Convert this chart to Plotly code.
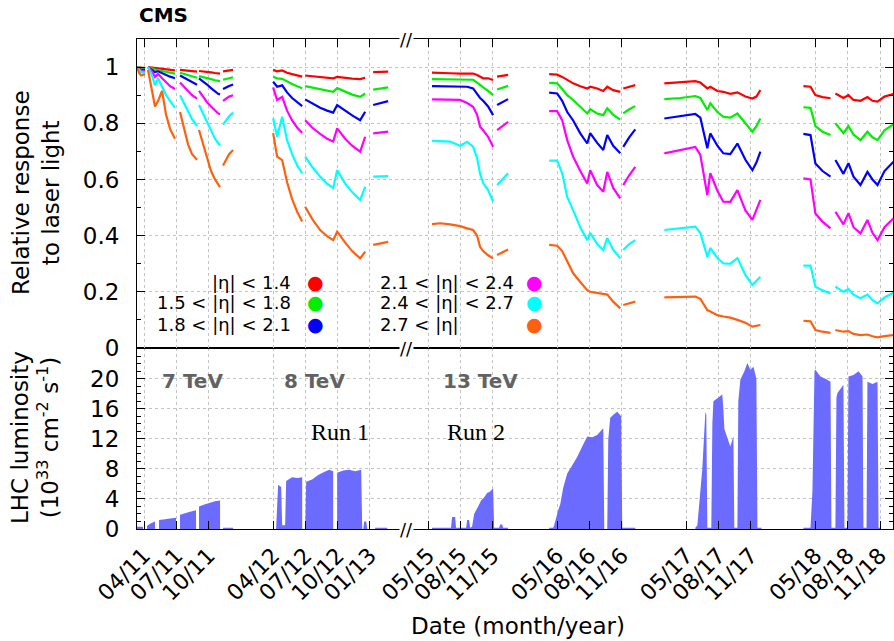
import plotly.graph_objects as go

# ----------------------------- data -----------------------------
# time (decimal years) of each continuous piece of the laser-response curves
T_PIECES = [
    [2011.196, 2011.211, 2011.227, 2011.258],
    [2011.281, 2011.312, 2011.335, 2011.359, 2011.390, 2011.421, 2011.452, 2011.490],
    [2011.529, 2011.560, 2011.591, 2011.622, 2011.661],
    [2011.676, 2011.707, 2011.738, 2011.769, 2011.800, 2011.824, 2011.839],
    [2011.862, 2011.885, 2011.909, 2011.940],
    [2012.250, 2012.281, 2012.320, 2012.358, 2012.397, 2012.436, 2012.475],
    [2012.498, 2012.552, 2012.614, 2012.668, 2012.715, 2012.746, 2012.808, 2012.862, 2012.924, 2012.963],
    [2013.025, 2013.079, 2013.141],
    [2015.364, 2015.426, 2015.504, 2015.581, 2015.636, 2015.682, 2015.713, 2015.736, 2015.760, 2015.798, 2015.837],
    [2015.868, 2015.907, 2015.953],
    [2016.271, 2016.333, 2016.372, 2016.411, 2016.457, 2016.512, 2016.566, 2016.589, 2016.643, 2016.690, 2016.721, 2016.767, 2016.822],
    [2016.845, 2016.891, 2016.938],
    [2017.163, 2017.287, 2017.403, 2017.442, 2017.496, 2017.519, 2017.574, 2017.620, 2017.674, 2017.729, 2017.791, 2017.845, 2017.876, 2017.907],
    [2018.240, 2018.295, 2018.333, 2018.388, 2018.450],
    [2018.488, 2018.550, 2018.589, 2018.628, 2018.682, 2018.736, 2018.775, 2018.814, 2018.868, 2018.938],
]

ETA_RED = [
    [1.0, 1.0, 0.998, 0.997],
    [1.0, 0.998, 0.996, 0.995, 0.994, 0.992, 0.99, 0.988],
    [0.99, 0.989, 0.988, 0.986, 0.984],
    [0.986, 0.985, 0.983, 0.981, 0.979, 0.978, 0.977],
    [0.985, 0.987, 0.988, 0.99],
    [0.99, 0.985, 0.988, 0.98, 0.975, 0.97, 0.966],
    [0.97, 0.968, 0.965, 0.962, 0.96, 0.965, 0.961, 0.959, 0.957, 0.962],
    [0.982, 0.983, 0.984],
    [0.98, 0.978, 0.978, 0.977, 0.977, 0.977, 0.972, 0.965, 0.96, 0.96, 0.954],
    [0.966, 0.969, 0.972],
    [0.975, 0.973, 0.965, 0.955, 0.942, 0.932, 0.924, 0.93, 0.924, 0.915, 0.93, 0.918, 0.912],
    [0.924, 0.93, 0.936],
    [0.942, 0.945, 0.95, 0.945, 0.924, 0.93, 0.915, 0.912, 0.905, 0.91, 0.895, 0.888, 0.895, 0.918],
    [0.932, 0.93, 0.9, 0.893, 0.889],
    [0.906, 0.89, 0.9, 0.883, 0.88, 0.893, 0.88, 0.877, 0.895, 0.904],
]
ETA_GREEN = [
    [1.0, 0.999, 0.997, 0.995],
    [1.0, 0.995, 0.99, 0.988, 0.986, 0.983, 0.98, 0.977],
    [0.98, 0.976, 0.972, 0.968, 0.962],
    [0.968, 0.965, 0.961, 0.957, 0.953, 0.95, 0.95],
    [0.955, 0.958, 0.961, 0.964],
    [0.966, 0.96, 0.958, 0.948, 0.94, 0.932, 0.925],
    [0.932, 0.927, 0.92, 0.915, 0.912, 0.925, 0.912, 0.902, 0.894, 0.906],
    [0.92, 0.924, 0.928],
    [0.957, 0.957, 0.957, 0.956, 0.956, 0.955, 0.945, 0.935, 0.928, 0.915, 0.9],
    [0.92, 0.927, 0.933],
    [0.944, 0.942, 0.922, 0.9, 0.883, 0.86, 0.835, 0.85, 0.835, 0.829, 0.853, 0.83, 0.813],
    [0.835, 0.85, 0.861],
    [0.886, 0.89, 0.897, 0.89, 0.847, 0.871, 0.84, 0.823, 0.82, 0.835, 0.8, 0.77, 0.79, 0.817],
    [0.857, 0.855, 0.79, 0.77, 0.758],
    [0.8, 0.765, 0.79, 0.76, 0.74, 0.77, 0.75, 0.74, 0.775, 0.797],
]
ETA_BLUE = [
    [1.0, 0.995, 0.99, 0.99],
    [1.0, 0.99, 0.982, 0.985, 0.978, 0.972, 0.966, 0.96],
    [0.97, 0.962, 0.953, 0.945, 0.937],
    [0.96, 0.95, 0.938, 0.925, 0.913, 0.905, 0.903],
    [0.922, 0.928, 0.933, 0.938],
    [0.948, 0.93, 0.935, 0.91, 0.89, 0.875, 0.861],
    [0.885, 0.87, 0.855, 0.845, 0.838, 0.865, 0.845, 0.828, 0.811, 0.841],
    [0.865, 0.872, 0.879],
    [0.932, 0.932, 0.932, 0.932, 0.93, 0.924, 0.905, 0.89, 0.88, 0.86, 0.829],
    [0.865, 0.876, 0.886],
    [0.909, 0.906, 0.88, 0.84, 0.81, 0.764, 0.728, 0.765, 0.73, 0.705, 0.758, 0.72, 0.693],
    [0.716, 0.75, 0.778],
    [0.817, 0.825, 0.833, 0.82, 0.711, 0.764, 0.72, 0.693, 0.69, 0.728, 0.67, 0.633, 0.66, 0.699],
    [0.762, 0.758, 0.657, 0.63, 0.61],
    [0.669, 0.62, 0.658, 0.61, 0.58, 0.627, 0.6, 0.58, 0.63, 0.663],
]
ETA_MAGENTA = [
    [1.0, 0.993, 0.988, 0.985],
    [1.0, 0.985, 0.965, 0.975, 0.96, 0.945, 0.932, 0.922],
    [0.945, 0.93, 0.915, 0.9, 0.888],
    [0.915, 0.895, 0.875, 0.86, 0.845, 0.835, 0.832],
    [0.88, 0.888, 0.895, 0.9],
    [0.928, 0.883, 0.894, 0.845, 0.81, 0.785, 0.765],
    [0.811, 0.785, 0.762, 0.745, 0.735, 0.782, 0.745, 0.72, 0.699, 0.752],
    [0.764, 0.767, 0.77],
    [0.885, 0.885, 0.884, 0.883, 0.872, 0.859, 0.83, 0.788, 0.775, 0.752, 0.716],
    [0.776, 0.79, 0.805],
    [0.843, 0.843, 0.811, 0.74, 0.681, 0.63, 0.586, 0.633, 0.58, 0.556, 0.627, 0.57, 0.533],
    [0.58, 0.615, 0.645],
    [0.693, 0.705, 0.716, 0.687, 0.544, 0.622, 0.56, 0.521, 0.52, 0.562, 0.49, 0.456, 0.49, 0.527],
    [0.604, 0.6, 0.479, 0.45, 0.426],
    [0.485, 0.44, 0.48, 0.43, 0.408, 0.456, 0.41, 0.384, 0.43, 0.462],
]
ETA_CYAN = [
    [1.0, 0.99, 0.982, 0.98],
    [1.0, 0.97, 0.935, 0.96, 0.93, 0.9, 0.88, 0.855],
    [0.9, 0.87, 0.84, 0.815, 0.79],
    [0.865, 0.835, 0.8, 0.77, 0.745, 0.73, 0.722],
    [0.795, 0.81, 0.825, 0.838],
    [0.818, 0.752, 0.823, 0.74, 0.69, 0.65, 0.622],
    [0.681, 0.645, 0.61, 0.585, 0.57, 0.633, 0.585, 0.555, 0.527, 0.574],
    [0.61, 0.611, 0.612],
    [0.737, 0.737, 0.735, 0.72, 0.734, 0.717, 0.676, 0.62, 0.587, 0.562, 0.521],
    [0.58, 0.6, 0.622],
    [0.667, 0.667, 0.622, 0.538, 0.49, 0.43, 0.384, 0.41, 0.37, 0.349, 0.391, 0.35, 0.319],
    [0.349, 0.37, 0.384],
    [0.42, 0.426, 0.432, 0.409, 0.325, 0.356, 0.32, 0.301, 0.3, 0.32, 0.26, 0.224, 0.24, 0.254],
    [0.293, 0.293, 0.218, 0.205, 0.195],
    [0.218, 0.2, 0.21, 0.19, 0.177, 0.19, 0.17, 0.159, 0.18, 0.197],
]
ETA_ORANGE = [
    [1.0, 0.98, 0.97, 0.975],
    [0.99, 0.92, 0.86, 0.88, 0.915, 0.83, 0.78, 0.745],
    [0.84, 0.78, 0.725, 0.69, 0.67],
    [0.776, 0.73, 0.68, 0.63, 0.6, 0.58, 0.573],
    [0.65, 0.67, 0.69, 0.705],
    [0.765, 0.681, 0.669, 0.59, 0.53, 0.485, 0.45],
    [0.503, 0.46, 0.42, 0.398, 0.384, 0.414, 0.375, 0.345, 0.319, 0.343],
    [0.367, 0.372, 0.378],
    [0.441, 0.444, 0.44, 0.434, 0.426, 0.42, 0.4, 0.36, 0.345, 0.33, 0.319],
    [0.331, 0.341, 0.351],
    [0.367, 0.364, 0.345, 0.31, 0.266, 0.235, 0.206, 0.2, 0.196, 0.19, 0.19, 0.165, 0.141],
    [0.153, 0.16, 0.165],
    [0.18, 0.182, 0.183, 0.175, 0.135, 0.13, 0.117, 0.112, 0.108, 0.1, 0.09, 0.076, 0.079, 0.082],
    [0.097, 0.095, 0.064, 0.058, 0.054],
    [0.064, 0.058, 0.06, 0.05, 0.046, 0.048, 0.042, 0.038, 0.042, 0.046],
]

SERIES_NAMES = ["|η| < 1.4", "1.5 < |η| < 1.8", "1.8 < |η| < 2.1",
                "2.1 < |η| < 2.4", "2.4 < |η| < 2.7", "2.7 < |η|"]

# LHC instantaneous luminosity envelope (10^33 cm^-2 s^-1)
LUMI_T = [
    2011.196, 2011.196, 2011.242, 2011.242, 2011.273, 2011.273, 2011.297, 2011.335, 2011.335,
    2011.366, 2011.366, 2011.413, 2011.452, 2011.498, 2011.498, 2011.529, 2011.529, 2011.568,
    2011.607, 2011.653, 2011.653, 2011.676, 2011.676, 2011.723, 2011.762, 2011.800, 2011.839,
    2011.839, 2011.862, 2011.862, 2011.940, 2011.940,
    2012.273, 2012.281, 2012.289, 2012.312, 2012.320, 2012.343, 2012.351, 2012.397, 2012.436, 2012.475, 2012.475,
    2012.498, 2012.506, 2012.552, 2012.599, 2012.645, 2012.684, 2012.715, 2012.715,
    2012.746, 2012.746, 2012.793, 2012.839, 2012.886, 2012.932, 2012.940,
    2012.948, 2012.955, 2012.971, 2012.979,
    2013.040, 2013.040, 2013.134, 2013.134,
    2015.364, 2015.364, 2015.511, 2015.519, 2015.543, 2015.550, 2015.628, 2015.636, 2015.651, 2015.659,
    2015.674, 2015.690, 2015.721, 2015.744, 2015.767, 2015.791, 2015.814, 2015.837, 2015.845, 2015.884,
    2015.891, 2015.907, 2015.915, 2015.953, 2015.953,
    2016.271, 2016.271, 2016.302, 2016.310, 2016.341, 2016.357, 2016.380, 2016.411, 2016.450, 2016.488,
    2016.527, 2016.566, 2016.605, 2016.643, 2016.690, 2016.698,
    2016.721, 2016.729, 2016.744, 2016.775, 2016.798, 2016.829, 2016.837, 2016.938, 2016.938,
    2017.403, 2017.403, 2017.419, 2017.457, 2017.481, 2017.488, 2017.496,
    2017.527, 2017.535, 2017.543, 2017.582, 2017.612, 2017.620, 2017.628, 2017.674, 2017.698, 2017.705,
    2017.729, 2017.736, 2017.752, 2017.783, 2017.806, 2017.829, 2017.853, 2017.876, 2017.884, 2017.915, 2017.915,
    2018.240, 2018.240, 2018.295, 2018.310, 2018.326, 2018.333, 2018.372, 2018.411, 2018.450, 2018.457,
    2018.488, 2018.496, 2018.504, 2018.550, 2018.558,
    2018.581, 2018.589, 2018.628, 2018.667, 2018.698, 2018.705,
    2018.729, 2018.736, 2018.775, 2018.814, 2018.822, 2018.837, 2018.837,
]
LUMI_V = [
    0, 0.3, 0.3, 0, 0, 0.4, 0.7, 1.0, 0,
    0, 1.2, 1.3, 1.4, 1.5, 0, 0, 1.9, 2.1,
    2.3, 2.5, 0, 0, 3.0, 3.3, 3.5, 3.7, 3.8,
    0, 0, 0.15, 0.15, 0,
    0, 3.0, 5.9, 5.6, 0.5, 0.5, 6.4, 6.9, 6.8, 6.9, 0,
    0, 6.3, 6.6, 7.2, 7.6, 7.9, 7.7, 0,
    0, 7.5, 7.8, 7.9, 7.7, 7.9, 0,
    0, 1.0, 1.0, 0,
    0, 0.15, 0.15, 0,
    0, 0.15, 0.15, 1.6, 1.6, 0.15, 0.15, 1.2, 1.2, 0.15,
    0.3, 2.0, 3.0, 3.8, 4.2, 4.8, 5.0, 5.4, 0.15, 0.15,
    0.6, 0.6, 0.15, 0.15, 0,
    0, 0.15, 0.15, 0.5, 2.5, 3.3, 5.5, 7.4, 8.5, 9.6,
    11.0, 12.3, 12.2, 12.5, 13.4, 0,
    0, 12.0, 14.8, 15.3, 15.6, 15.0, 0.15, 0.15, 0,
    0, 0.15, 0.5, 8.0, 15.6, 15.2, 0.15,
    0.15, 14.0, 17.0, 17.5, 17.9, 16.0, 13.3, 11.0, 12.3, 0.15,
    0.15, 17.0, 19.9, 21.0, 22.1, 21.2, 21.6, 20.0, 0.15, 0.15, 0,
    0, 0.15, 0.15, 5.0, 21.0, 21.2, 20.3, 20.0, 19.6, 0.15,
    0.15, 17.5, 18.1, 19.2, 0.15,
    0.15, 20.3, 20.5, 21.0, 20.3, 0.15,
    0.15, 19.6, 19.3, 19.6, 0.15, 0.15, 0,
]

TICK_DATES = [2011.25, 2011.5, 2011.75, 2012.25, 2012.5, 2012.75, 2013.0,
              2015 + 4 / 12, 2015 + 7 / 12, 2015 + 10 / 12,
              2016 + 4 / 12, 2016 + 7 / 12, 2016 + 10 / 12,
              2017 + 4 / 12, 2017 + 7 / 12, 2017 + 10 / 12,
              2018 + 4 / 12, 2018 + 7 / 12, 2018 + 10 / 12]
TICK_LABELS = ["04/11", "07/11", "10/11", "04/12", "07/12", "10/12", "01/13",
               "05/15", "08/15", "11/15", "05/16", "08/16", "11/16",
               "05/17", "08/17", "11/17", "05/18", "08/18", "11/18"]

# ----------------------------- styling -----------------------------
COLORS = ["#ff0000", "#00ee00", "#0000ff", "#ff00ff", "#00ffff", "#ff6010"]
LUMI_COLOR = "#6b6bff"
FONT = "DejaVu Sans"
GRID = "#c4c4c4"

GAP_OFFSET = 25.4   # axis months removed by the 2013-2015 break


def tx(t):
    """decimal year -> broken-axis coordinate (months)"""
    if t is None:
        return None
    return 12 * (t - 2011) if t < 2014 else 12 * (t - 2015) + GAP_OFFSET


def flatten(pieces):
    out = []
    for i, p in enumerate(pieces):
        if i:
            out.append(None)
        out.extend(p)
    return out


X_RANGE = [2.349, 72.608]
BREAK_X = 27.44
W, H = 894, 641
ML, MR, MT, MB = 137, 1, 39, 112
PW, PH = W - ML - MR, H - MT - MB
SPLIT = 181 / 490


def px(x):
    return (x - ML) / PW


def py(y):
    return (H - MB - y) / PH


fig = go.Figure()

xs = [tx(t) for t in flatten(T_PIECES)]
for vals, col, name in zip([ETA_RED, ETA_GREEN, ETA_BLUE, ETA_MAGENTA, ETA_CYAN, ETA_ORANGE],
                           COLORS, SERIES_NAMES):
    fig.add_trace(go.Scatter(x=xs, y=flatten(vals), mode="lines", name=name,
                             line=dict(color=col, width=2.2), xaxis="x2", yaxis="y2",
                             connectgaps=False))

fig.add_trace(go.Scatter(x=[tx(t) for t in LUMI_T], y=LUMI_V, mode="none",
                         fill="tozeroy", fillcolor=LUMI_COLOR, xaxis="x", yaxis="y",
                         name="LHC luminosity"))

tickvals = [tx(t) for t in TICK_DATES]
common_x = dict(range=X_RANGE, tickvals=tickvals, ticks="inside", ticklen=8,
                tickcolor="black", showline=True, linecolor="black", linewidth=1,
                mirror=True, showgrid=True, gridcolor=GRID, griddash="dot",
                gridwidth=1, zeroline=False, automargin=False)
common_y = dict(ticks="inside", ticklen=8, tickcolor="black", showline=True,
                linecolor="black", linewidth=1, mirror="ticks", showgrid=True,
                gridcolor=GRID, griddash="dot", gridwidth=1, zeroline=False,
                tickfont=dict(size=23), ticklabelstandoff=12, automargin=False)

fig.update_layout(
    width=W, height=H,
    margin=dict(l=ML, r=MR, t=MT, b=MB),
    plot_bgcolor="white", paper_bgcolor="white",
    showlegend=False,
    font=dict(family=FONT, size=22, color="black"),
    xaxis=dict(domain=[0, 1], anchor="y", ticktext=TICK_LABELS, tickangle=-45,
               tickfont=dict(size=22), ticklabelstandoff=4, **common_x),
    xaxis2=dict(domain=[0, 1], anchor="y2", matches="x", side="top",
                showticklabels=False, **common_x),
    yaxis=dict(domain=[0, SPLIT], anchor="x", range=[0, 24.1],
               tickvals=[0, 4, 8, 12, 16, 20],
               minor=dict(dtick=1, ticks="inside", ticklen=4, tickcolor="black", showgrid=False),
               **common_y),
    yaxis2=dict(domain=[SPLIT, 1], anchor="x2", range=[0, 1.1],
                tickvals=[0, 0.2, 0.4, 0.6, 0.8, 1],
                ticktext=["0", "0.2", "0.4", "0.6", "0.8", "1"],
                minor=dict(dtick=0.1, ticks="inside", ticklen=4, tickcolor="black", showgrid=False),
                **common_y),
)

ann = []
# title-like label
ann.append(dict(text="<b>CMS</b>", x=px(137), y=py(15), xref="paper", yref="paper",
                xanchor="left", yanchor="middle", showarrow=False,
                font=dict(size=20, family=FONT)))
# axis titles
ann.append(dict(text="Relative response<br>to laser light", x=px(36), y=py(193),
                xref="paper", yref="paper", textangle=-90, showarrow=False,
                xanchor="center", yanchor="middle", font=dict(size=23, family=FONT)))
ann.append(dict(text="LHC luminosity<br>(10<sup>33</sup> cm<sup>-2</sup> s<sup>-1</sup>)",
                x=px(35), y=py(438), xref="paper", yref="paper", textangle=-90,
                showarrow=False, xanchor="center", yanchor="middle",
                font=dict(size=23, family=FONT)))
ann.append(dict(text="Date (month/year)", x=px(518), y=py(626), xref="paper", yref="paper",
                showarrow=False, xanchor="center", yanchor="middle",
                font=dict(size=23, family=FONT)))
# energies and runs
for txt, xv in [("7 TeV", 7.51), ("8 TeV", 18.85), ("13 TeV", 34.23)]:
    ann.append(dict(text="<b>" + txt + "</b>", x=xv, y=19.7, xref="x", yref="y",
                    showarrow=False, xanchor="center", yanchor="middle",
                    font=dict(size=20, family=FONT, color="#626262")))
for txt, xv in [("Run 1", 21.26), ("Run 2", 33.9)]:
    ann.append(dict(text=txt, x=xv, y=12.9, xref="x", yref="y", showarrow=False,
                    xanchor="center", yanchor="middle",
                    font=dict(size=24, family="Liberation Serif", color="black")))
# legend
rows = [282, 302, 324]
for i, (name, col) in enumerate(zip(SERIES_NAMES, COLORS)):
    r = rows[i % 3]
    if i < 3:
        ann.append(dict(text=name, x=px(293), y=py(r), xref="paper", yref="paper",
                        xanchor="right", yanchor="middle", showarrow=False,
                        font=dict(size=18, family=FONT)))
        dot_x = 315
    else:
        ann.append(dict(text=name, x=px(378), y=py(r), xref="paper", yref="paper",
                        xanchor="left", yanchor="middle", showarrow=False,
                        font=dict(size=18, family=FONT)))
        dot_x = 534
    ann.append(dict(text="●", x=px(dot_x), y=py(r), xref="paper", yref="paper",
                    xanchor="center", yanchor="middle", showarrow=False,
                    font=dict(size=19, family=FONT, color=col)))
# axis break marks
for yy in [0, SPLIT, 1]:
    ann.append(dict(text="//", x=BREAK_X, y=yy, xref="x", yref="paper", showarrow=False,
                    xanchor="center", yanchor="middle", bgcolor="white", borderpad=0,
                    font=dict(size=18, family=FONT, color="black")))

fig.update_layout(annotations=ann)

fig.write_html("out.html", config={"displayModeBar": False},
               post_script="document.body.style.margin='0';document.body.style.overflow='hidden';")
